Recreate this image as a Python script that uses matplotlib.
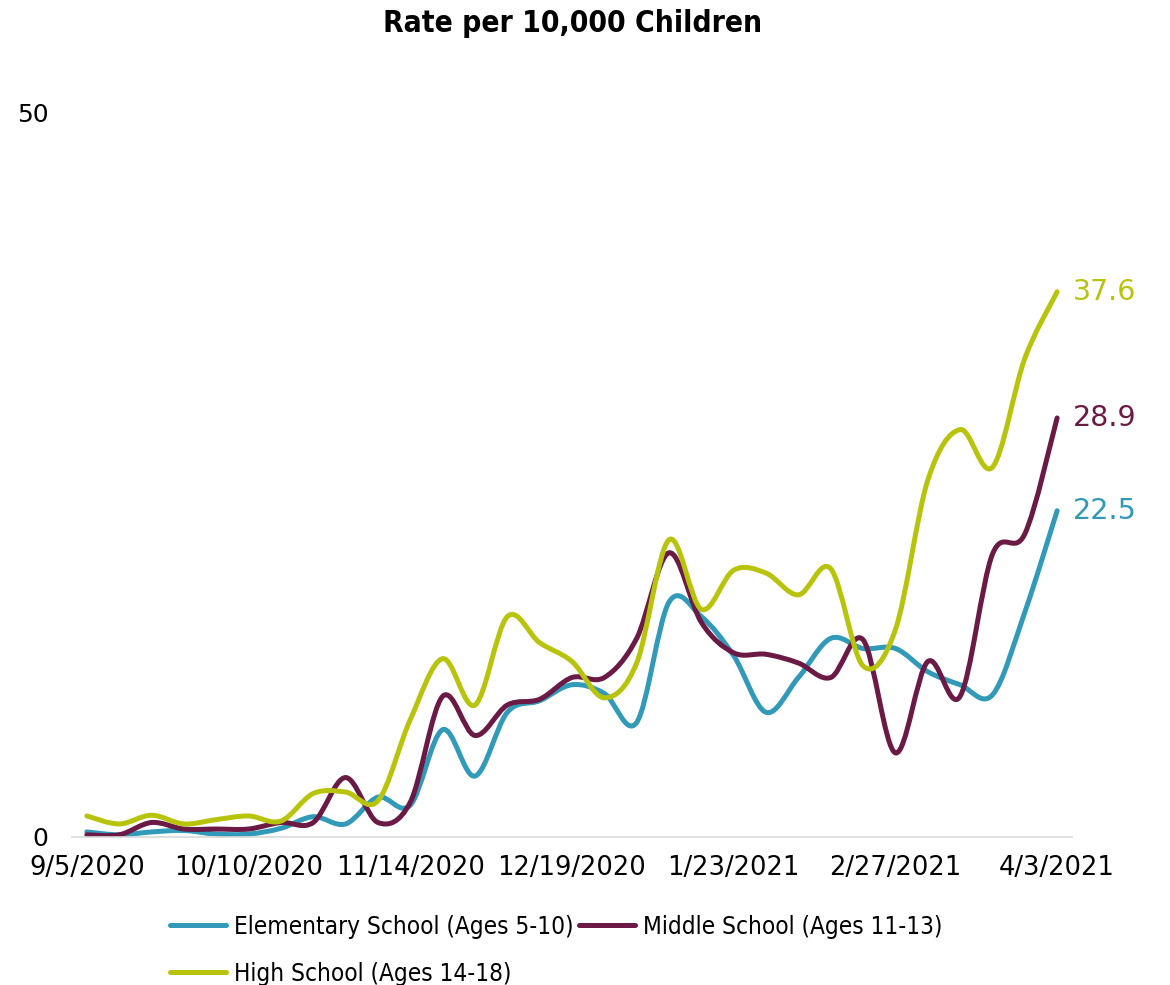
import numpy as np
import matplotlib.pyplot as plt
from matplotlib.path import Path
from matplotlib.patches import PathPatch
from matplotlib.lines import Line2D

# Weekly rates per 10,000 children, 9/5/2020 .. 4/3/2021
tick_labels = ['9/5/2020', '10/10/2020', '11/14/2020', '12/19/2020',
               '1/23/2021', '2/27/2021', '4/3/2021']
n_weeks = 31

elementary = [0.35, 0.15, 0.35, 0.45, 0.2, 0.2, 0.6, 1.4, 0.9, 2.75,
              2.2, 7.4, 4.2, 8.6, 9.4, 10.5, 9.9, 7.9, 16.2, 15.2,
              12.5, 8.6, 11.0, 13.7, 13.0, 13.0, 11.4, 10.5, 9.8, 15.5, 22.5]
middle = [0.15, 0.15, 1.0, 0.55, 0.55, 0.55, 1.0, 1.0, 4.1, 1.0,
          2.4, 9.7, 7.0, 9.1, 9.5, 11.0, 11.0, 13.7, 19.6, 14.8,
          12.7, 12.6, 12.0, 11.0, 13.6, 5.8, 12.1, 9.7, 19.5, 20.9, 28.9]
high = [1.45, 0.9, 1.5, 0.9, 1.2, 1.45, 1.1, 3.0, 3.1, 2.5,
        8.1, 12.3, 9.1, 15.2, 13.4, 12.1, 9.6, 12.0, 20.5, 15.7,
        18.4, 18.2, 16.7, 18.5, 11.8, 14.3, 24.6, 28.1, 25.5, 33.0, 37.6]

names = ['Elementary School (Ages 5-10)', 'Middle School (Ages 11-13)',
         'High School (Ages 14-18)']
colors = ['#319AB8', '#6A1A44', '#B8C40C']


def smooth_path(x, y):
    # Excel-style smoothed line: cubic Bezier through every point
    pts = np.column_stack([x, y]).astype(float)
    verts = [pts[0]]
    codes = [Path.MOVETO]
    n = len(pts)
    for i in range(n - 1):
        p0 = pts[max(i - 1, 0)]
        p1 = pts[i]
        p2 = pts[i + 1]
        p3 = pts[min(i + 2, n - 1)]
        c1 = p1 + (p2 - p0) / 6
        c2 = p2 - (p3 - p1) / 6
        verts += [c1, c2, p2]
        codes += [Path.CURVE4] * 3
    return Path(verts, codes)


fig = plt.figure(figsize=(11.7, 9.85), dpi=100)
ax = fig.add_axes([72 / 1170, 1 - 837 / 985, 1000 / 1170, 725 / 985])

x = np.arange(n_weeks)
series = [elementary, middle, high]
handles = []
for vals, name, col in zip(series, names, colors):
    patch = PathPatch(smooth_path(x, vals), fill=False, edgecolor=col,
                      lw=3.6, capstyle='round', joinstyle='round')
    ax.add_patch(patch)
    handles.append(Line2D([], [], color=col, lw=3.6, solid_capstyle='round',
                          label=name))
    ax.text(x[-1] + 0.5, vals[-1], f'{vals[-1]:.1f}', color=col,
            fontsize=20.5, family='DejaVu Sans', va='center', ha='left')

ax.set_xlim(-0.46, n_weeks - 1 + 0.46)
ax.set_ylim(0, 50)
ax.set_xticks(x[::5])
ax.set_xticklabels(tick_labels, fontsize=18.5, family='DejaVu Sans')
ax.set_yticks([0, 50])
ax.set_yticklabels(['0', '50'], fontsize=18, family='DejaVu Sans')
ax.tick_params(axis='x', length=0, pad=13)
ax.tick_params(axis='y', length=0, pad=17)
for s in ['top', 'right', 'left']:
    ax.spines[s].set_visible(False)
ax.spines['bottom'].set_color('#D9D9D9')
ax.spines['bottom'].set_linewidth(1.2)

fig.suptitle('Rate per 10,000 Children', x=573 / 1170, y=0.991, fontsize=21.5,
             fontweight='bold', family='DejaVu Sans', fontstretch='condensed')

# row-wise order: Elementary, Middle / High
order = [0, 2, 1]
fig.legend([handles[i] for i in order], [names[i] for i in order],
           ncol=2, loc='upper left', bbox_to_anchor=(148 / 1170, 1 - 893 / 985),
           frameon=False, handlelength=2.3, handletextpad=0.35,
           columnspacing=0.2, labelspacing=0.95,
           prop={'family': 'DejaVu Sans', 'stretch': 'condensed', 'size': 17.5})

fig.savefig('out.png', dpi=100)
